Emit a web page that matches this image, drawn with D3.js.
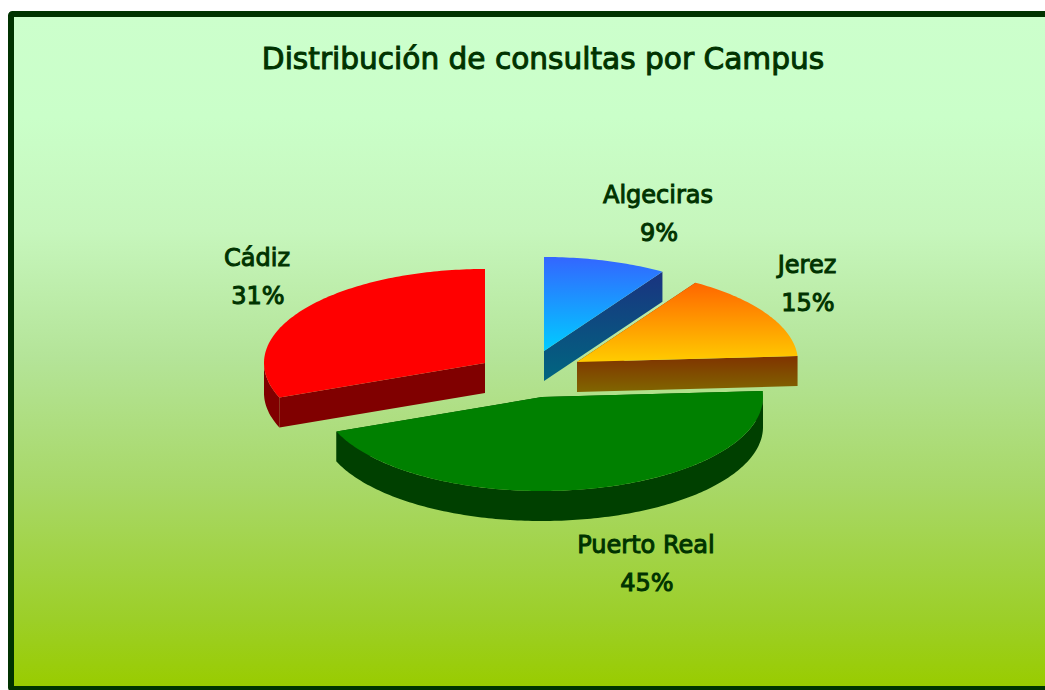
<!DOCTYPE html>
<html>
<head>
<meta charset="utf-8">
<script src="https://cdn.jsdelivr.net/npm/d3@7"></script>
<style>
  body { margin: 0; background: #fff; overflow: hidden; }
  text { font-family: "DejaVu Sans", sans-serif; fill: #003300; stroke: #003300; stroke-width: 1; }
</style>
</head>
<body>
<svg id="plot" width="1045" height="690"></svg>
<script>
// Chart values.

const TITLE = "Distribución de consultas por Campus";
const CAMPUS = ["Algeciras", "Jerez", "Puerto Real", "Cádiz"];
const PERCENT = [9, 15, 45, 31];

// Slice colours, [top of gradient, bottom of gradient].

const TOP_COLORS = [["#3366ff", "#00ccff"], ["#ff6600", "#ffcc00"], ["#008000", "#008000"], ["#ff0000", "#ff0000"]];
const SIDE_COLORS = [["#1a3380", "#006680"], ["#803300", "#806600"], ["#004000", "#004000"], ["#800000", "#800000"]];

// Layout.

const center = { "x": 530, "y": 374 };
const radius = { "x": 221, "y": 94 };
const depth = 30;
const explodeX = [14, 47, 12, -45];
const explodeY = [-23, -12, 23, -11];
const labelDX = [128, 277, 116, -273];
const labelDY = [-171, -101, 179, -108];
const lineGap = 37.5;

const plot = d3.select("#plot");
const defs = plot.append("defs");

function addGradient(id, colors, x1, y1, y2) {
    const grad = defs.append("linearGradient")
        .attr("id", id)
        .attr("gradientUnits", "userSpaceOnUse")
        .attr("x1", x1).attr("x2", x1)
        .attr("y1", y1).attr("y2", y2);
    colors.forEach((c, i) => {
        grad.append("stop")
            .attr("offset", i / (colors.length - 1))
            .attr("stop-color", c);
    });
}

// Background and frame. The fade stays pale for the upper part.

const BACK_COLORS = ["#ccffcc", "#caffc9", "#c6f6bc", "#b4e498", "#a8d868", "#9ccf28", "#99cc00"];

const backGrad = defs.append("linearGradient")
    .attr("id", "back")
    .attr("gradientUnits", "userSpaceOnUse")
    .attr("x1", 0).attr("x2", 0)
    .attr("y1", 17).attr("y2", 686);
[0, 0.15, 0.32, 0.51, 0.7, 0.9, 1].forEach((o, i) => {
    backGrad.append("stop").attr("offset", o).attr("stop-color", BACK_COLORS[i]);
});

plot.append("rect")
    .attr("x", 11).attr("y", 14)
    .attr("width", 1100).attr("height", 675)
    .attr("rx", 1.5)
    .attr("fill", "url(#back)")
    .attr("stroke", "#003300")
    .attr("stroke-width", 6);

plot.append("text")
    .text(TITLE)
    .attr("x", 543)
    .attr("y", 69)
    .attr("text-anchor", "middle")
    .attr("font-size", 29.6);

// Pie.

const pie = d3.pie().sort(null).startAngle(0).endAngle(2 * Math.PI);
const arcs = pie(PERCENT);

const line = d3.line().x(d => d[0]).y(d => d[1]);

function point(apex, angle, drop = 0) {
    return [
        apex.x + radius.x * Math.sin(angle),
        apex.y - radius.y * Math.cos(angle) + drop,
    ];
}

function rim(apex, a0, a1, drop = 0) {
    const n = Math.max(2, Math.ceil((a1 - a0) * 60));
    return d3.range(n + 1).map(i => point(apex, a0 + (a1 - a0) * i / n, drop));
}

// Back to front, so nearer slices cover the farther ones.
const drawOrder = [3, 0, 1, 2];

drawOrder.forEach(i => {
    const d = arcs[i];
    const apex = { "x": center.x + explodeX[i], "y": center.y + explodeY[i] };
    const top = [[apex.x, apex.y]].concat(rim(apex, d.startAngle, d.endAngle));
    const g = plot.append("g").attr("class", "slice");

    const ys = top.map(p => p[1]);
    const yMin = d3.min(ys);
    const yMax = d3.max(ys);

    // Side shading runs over the visible cut face, which is the end edge.
    addGradient("side" + i, SIDE_COLORS[i], 0, point(apex, d.endAngle)[1], apex.y + depth);
    addGradient("top" + i, TOP_COLORS[i], 0, yMin, yMax);

    // Cut faces: the two radial edges pushed down by the depth.
    [d.startAngle, d.endAngle].forEach(a => {
        const end = point(apex, a);
        const quad = [[apex.x, apex.y], end, [end[0], end[1] + depth], [apex.x, apex.y + depth]];
        g.append("path")
            .attr("d", line(quad) + "Z")
            .attr("fill", `url(#side${i})`);
    });

    // Outer wall, only where the rim faces the viewer.
    const a0 = Math.max(d.startAngle, Math.PI / 2);
    const a1 = Math.min(d.endAngle, 3 * Math.PI / 2);
    if (a1 > a0) {
        const wall = rim(apex, a0, a1).concat(rim(apex, a0, a1, depth).reverse());
        g.append("path")
            .attr("d", line(wall) + "Z")
            .attr("fill", `url(#side${i})`);
    }

    g.append("path")
        .attr("d", line(top) + "Z")
        .attr("fill", `url(#top${i})`);
});

// Labels.

CAMPUS.forEach((name, i) => {
    const x = center.x + labelDX[i];
    const y = center.y + labelDY[i];
    const label = plot.append("text")
        .attr("text-anchor", "middle")
        .attr("font-size", 24);
    label.append("tspan").attr("x", x).attr("y", y).text(name);
    label.append("tspan").attr("x", x + 1).attr("y", y + lineGap).text(PERCENT[i] + "%");
});
</script>
</body>
</html>
